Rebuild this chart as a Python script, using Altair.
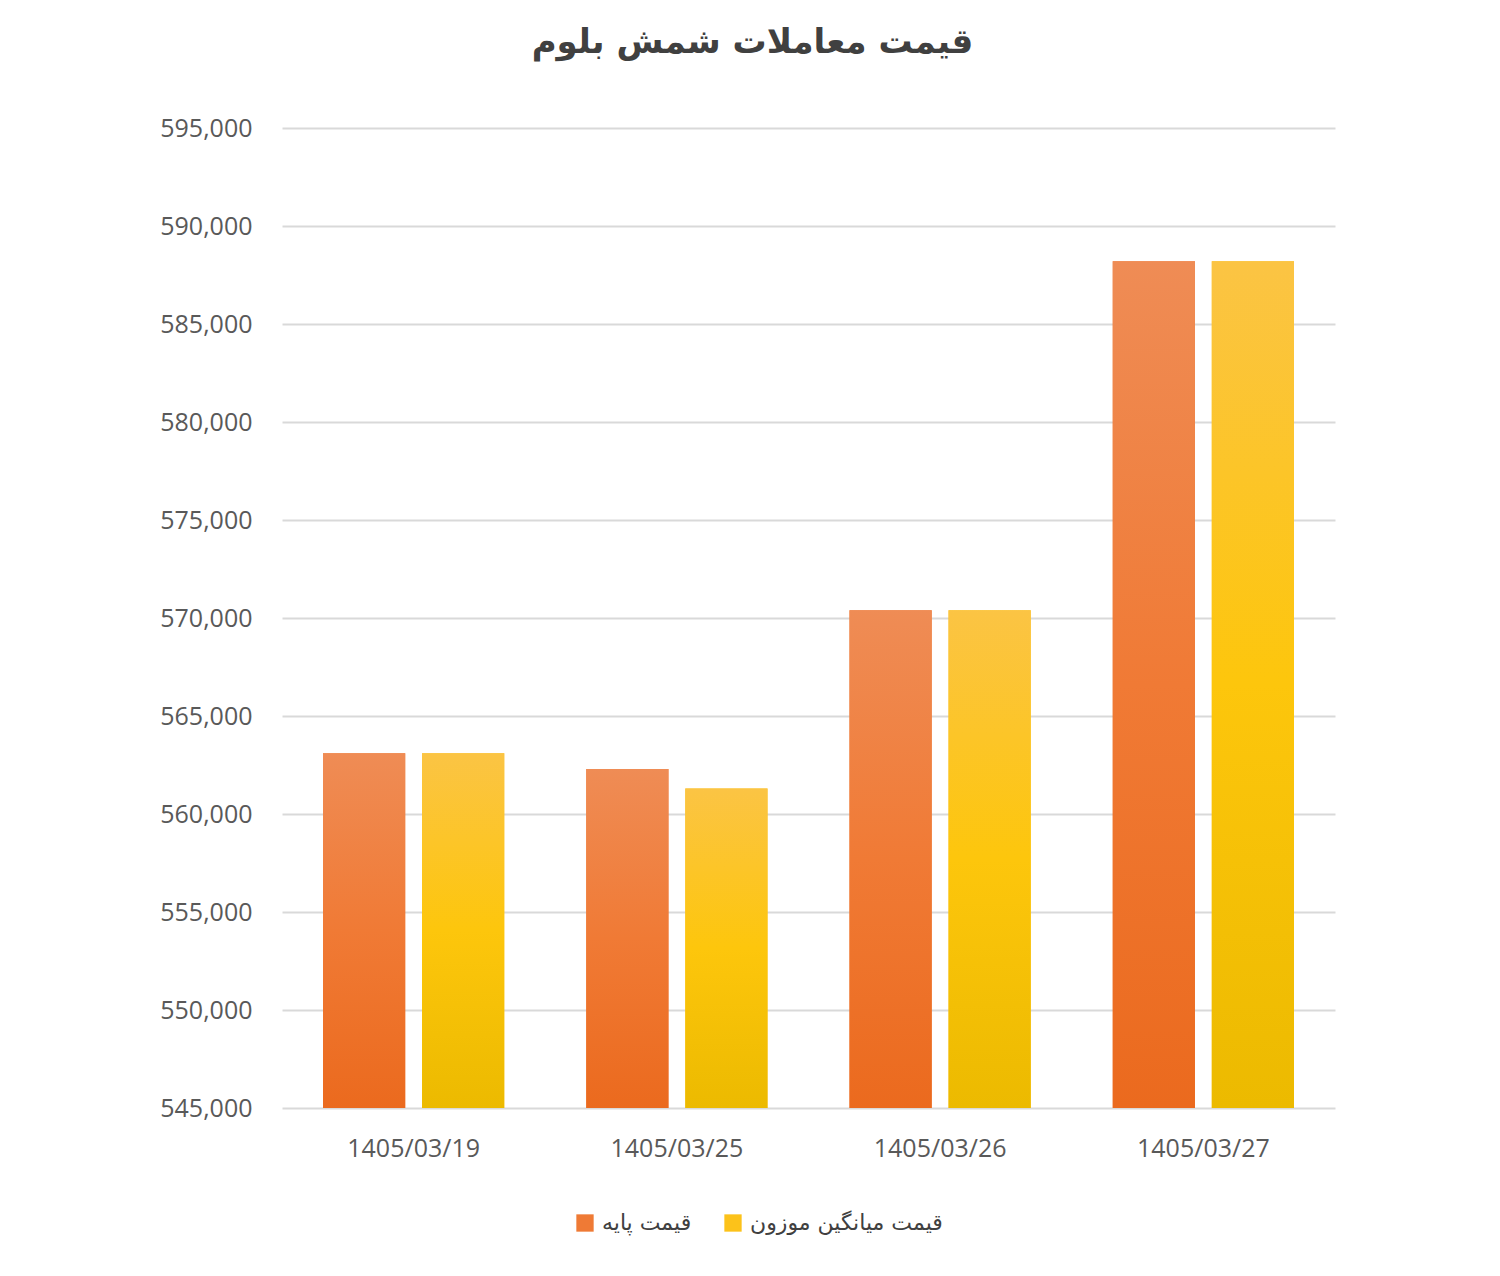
import altair as alt
import pandas as pd

dates = ["1405/03/19", "1405/03/25", "1405/03/26", "1405/03/27"]
base_price = [563100, 562300, 570400, 588200]
weighted_price = [563100, 561300, 570400, 588200]
series_names = ["قیمت پایه", "قیمت میانگین موزون"]
series_colors = ["#EF7A35", "#FCC21A"]
title_text = "قیمت معاملات شمش بلوم"
y_ticks = [545000, 550000, 555000, 560000, 565000, 570000, 575000, 580000, 585000, 590000, 595000]

rows = []
for d, b, w in zip(dates, base_price, weighted_price):
    rows.append({"date": d, "series": series_names[0], "value": b})
    rows.append({"date": d, "series": series_names[1], "value": w})
df = pd.DataFrame(rows)

x_enc = alt.X("date:N", sort=dates, title=None,
              scale=alt.Scale(paddingInner=0, paddingOuter=0),
              axis=alt.Axis(labelAngle=0, labelFont="Open Sans", labelFontSize=25,
                            labelColor="#595959", labelPadding=28, ticks=False,
                            domain=False, grid=False))
xoff_enc = alt.XOffset("series:N", sort=series_names,
                       scale=alt.Scale(domain=series_names, paddingInner=0.17, paddingOuter=0.414))
y_enc = alt.Y("value:Q", title=None,
              scale=alt.Scale(domain=[545000, 595000], nice=False, zero=False),
              axis=alt.Axis(values=y_ticks, format=",.0f",
                            labelFont="Open Sans", labelFontSize=25, labelColor="#595959",
                            labelPadding=30, ticks=False, domain=False,
                            gridColor="#D9D9D9", gridWidth=2))

base = alt.Chart(df)

solid = base.mark_bar(clip=True).encode(
    x=x_enc, xOffset=xoff_enc, y=y_enc, y2=alt.datum(545000),
    color=alt.Color("series:N", sort=series_names,
                    scale=alt.Scale(domain=series_names, range=series_colors),
                    legend=alt.Legend(title=None, orient="none", direction="horizontal",
                                      legendX=292, legendY=1084,
                                      labelFont="DejaVu Sans", labelFontSize=22,
                                      labelColor="#404040", labelLimit=400,
                                      symbolType="square",
                                      symbolSize=300, symbolStrokeWidth=0,
                                      columnPadding=30, labelOffset=6)),
)

orange_grad = alt.Gradient(gradient="linear", x1=0, x2=0, y1=0, y2=1, stops=[
    alt.GradientStop(color="#EF8C55", offset=0),
    alt.GradientStop(color="#F07A35", offset=0.5),
    alt.GradientStop(color="#EB6A1E", offset=1)])
yellow_grad = alt.Gradient(gradient="linear", x1=0, x2=0, y1=0, y2=1, stops=[
    alt.GradientStop(color="#FBC444", offset=0),
    alt.GradientStop(color="#FDC60C", offset=0.5),
    alt.GradientStop(color="#ECBA00", offset=1)])

g1 = base.transform_filter(alt.datum.series == series_names[0]).mark_bar(
    color=orange_grad, clip=True).encode(x=x_enc, xOffset=xoff_enc, y=y_enc, y2=alt.datum(545000))
g2 = base.transform_filter(alt.datum.series == series_names[1]).mark_bar(
    color=yellow_grad, clip=True).encode(x=x_enc, xOffset=xoff_enc, y=y_enc, y2=alt.datum(545000))

chart = alt.layer(solid, g1, g2).properties(
    width=1053, height=980,
    autosize=alt.AutoSizeParams(type="none"),
    padding={"left": 274, "top": 120, "right": 120, "bottom": 130},
    background="#FFFFFF",
    title=alt.TitleParams(title_text, font="DejaVu Sans", fontSize=34, fontWeight="bold",
                          color="#404040", anchor="middle", dx=-56, offset=56),
).configure_view(stroke=None)

chart.save("out.html", embed_options={"renderer": "svg", "actions": False})
